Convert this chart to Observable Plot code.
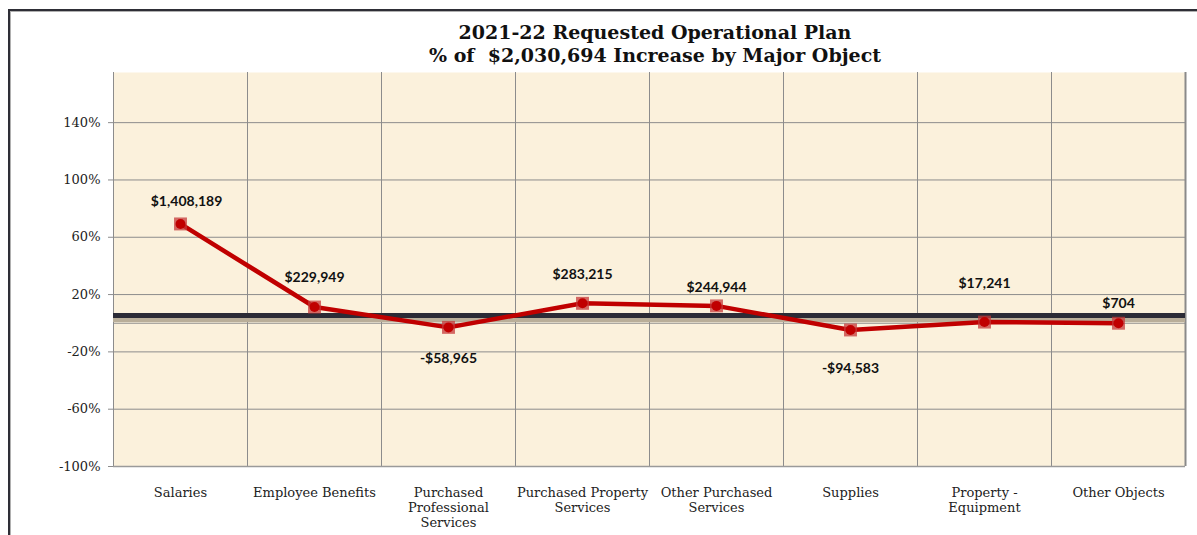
<!DOCTYPE html>
<html>
<head>
<meta charset="utf-8">
<script src="https://cdn.jsdelivr.net/npm/d3@7"></script>
<script src="https://cdn.jsdelivr.net/npm/@observablehq/plot@0.6"></script>
<style>
  html, body { margin: 0; padding: 0; background: #fff; overflow: hidden; }
  #wrap { position: relative; width: 1197px; height: 535px; overflow: hidden; }
  #frame1 { position: absolute; left: 8px; top: 9px; width: 3000px; height: 3000px;
            border-left: 2px solid #2e2e36; border-top: 2px solid #2e2e36; }
  #frame2 { position: absolute; left: 10px; top: 11px; width: 3000px; height: 3000px;
            border-left: 1px solid #b0b0b0; border-top: 1px solid #b0b0b0; }
  #title { position: absolute; left: 113px; width: 1084px; top: 21px; text-align: center;
           font-family: "DejaVu Serif", serif; font-weight: bold; font-size: 19px;
           line-height: 23px; color: #111; }
  #chart { position: absolute; left: 0; top: 0; }
</style>
</head>
<body>
<div id="wrap">
  <div id="frame1"></div>
  <div id="frame2"></div>
  <div id="chart"></div>
  <div id="title">2021-22 Requested Operational Plan<br>% of&nbsp; $2,030,694 Increase by Major Object</div>
</div>
<script>
// ---- data ----
const categories = [
  "Salaries",
  "Employee Benefits",
  "Purchased\nProfessional\nServices",
  "Purchased Property\nServices",
  "Other Purchased\nServices",
  "Supplies",
  "Property -\nEquipment",
  "Other Objects"
];
const pctValues = [69.3, 11.3, -2.9, 13.9, 12.1, -4.7, 0.8, 0.0];
const dollarLabels = ["$1,408,189", "$229,949", "-$58,965", "$283,215", "$244,944", "-$94,583", "$17,241", "$704"];
const yTicks = [-100, -60, -20, 20, 60, 100, 140];
const refLineValue = 5.4;

// ---- layout (label offsets in px) ----
const labelDy = [-22, -30, 31, -29, -18, 39, -39, -20];
const labelDx = [6, 0, 0, 0, 0, 0, 0, 0];

const idx = d3.range(categories.length);
const xPos = i => i + 0.5;

const labelMarks = idx.map(i =>
  Plot.text([i], {
    x: xPos, y: j => pctValues[j], text: j => dollarLabels[j],
    dy: labelDy[i], dx: labelDx[i], fontFamily: "Lato", fontWeight: "bold", fontSize: 14, fill: "#111"
  })
);

const chart = Plot.plot({
  width: 1197, height: 535,
  marginLeft: 113, marginRight: 12, marginTop: 72, marginBottom: 69,
  style: { background: "transparent", fontFamily: "DejaVu Serif", fontSize: "12px", color: "#222" },
  x: { domain: [0, categories.length], axis: null },
  y: { domain: [-100, 175], axis: null },
  marks: [
    Plot.frame({ fill: "#FBF1DC", stroke: null }),
    Plot.ruleY(yTicks, { stroke: "#8c8c8c", strokeWidth: 1 }),
    Plot.ruleY([0], { stroke: "#8c8c8c", strokeWidth: 1 }),
    Plot.ruleX(d3.range(categories.length + 1), { stroke: "#8c8c8c", strokeWidth: 1 }),
    Plot.ruleX([categories.length], { stroke: "#8a8a8a", strokeWidth: 2 }),
    Plot.ruleY([-100], { stroke: "#9a9a9a", strokeWidth: 1.5 }),
    Plot.ruleY([refLineValue], { stroke: "#b9ae99", strokeWidth: 5, dy: 4 }),
    Plot.ruleY([refLineValue], { stroke: "#2b2b36", strokeWidth: 5 }),
    Plot.axisY(yTicks, { tickFormat: d => d + "%", tickSize: 5, tickPadding: 8, stroke: "#8c8c8c",
      fontSize: 13, fill: "#222" }),
    Plot.axisX(idx.map(xPos), { tickFormat: (d, i) => categories[i], tickSize: 0, tickPadding: 20,
      fontSize: 13, lineHeight: 1.15, fill: "#222" }),
    Plot.line(idx, { x: xPos, y: i => pctValues[i], stroke: "#C00000", strokeWidth: 4.5 }),
    Plot.dot(idx, { x: xPos, y: i => pctValues[i], symbol: "square", r: 7.3, fill: "#c63a3a", fillOpacity: 0.75, stroke: null }),
    Plot.dot(idx, { x: xPos, y: i => pctValues[i], r: 5, fill: "#C00000", stroke: null }),
    ...labelMarks
  ]
});
document.getElementById("chart").appendChild(chart);
</script>
</body>
</html>
